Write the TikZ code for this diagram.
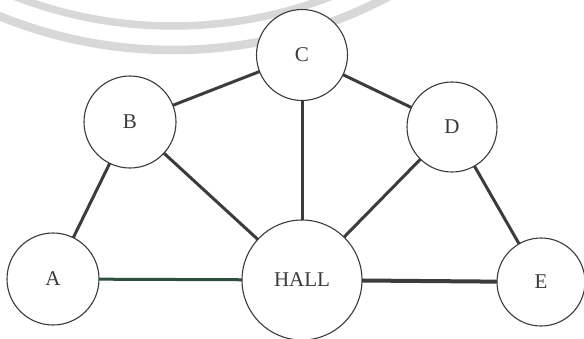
\documentclass[tikz,border=0pt]{standalone}
\usepackage{fontspec}
\setmainfont{Liberation Serif}
\definecolor{wm}{HTML}{D8D8D8}
\definecolor{ink}{HTML}{3A3A3A}
\definecolor{edgegray}{HTML}{3C3C3C}
\definecolor{edgegreen}{HTML}{2E4E3E}
\tikzset{
  room/.style={circle, draw=ink, line width=1.1pt, fill=white, inner sep=0pt, outer sep=0pt,
    text=ink, font=\fontsize{21}{24}\selectfont},
  link/.style={draw=edgegray, line width=3pt},
  linkgreen/.style={draw=edgegreen, line width=3pt},
  linkthick/.style={draw=edgegray, line width=4pt},
  watermark/.style={draw=wm, line width=7.5pt}
}
\begin{document}
\begin{tikzpicture}[x=1pt,y=-1pt]
\useasboundingbox (0,0) rectangle (584,338);
\begin{scope}
\clip (0,0) rectangle (584,338);
\fill[white] (0,0) rectangle (584,338);
\draw[watermark] (173,-410) circle (436);
\draw[watermark, line width=8.5pt] (173,-410) circle (460);
\end{scope}
\path
  (53,279)  coordinate (pA)
  (130,122) coordinate (pB)
  (302,55)  coordinate (pC)
  (452,127) coordinate (pD)
  (302,280) coordinate (pH)
  (541,282) coordinate (pE);
\node[room, minimum size=92pt]  (A) at (pA) {A};
\node[room, minimum size=92pt]  (B) at (pB) {B};
\node[room, minimum size=91pt]  (C) at (pC) {C};
\node[room, minimum size=90pt]  (D) at (pD) {D};
\node[room, minimum size=120pt] (H) at (pH) {HALL};
\node[room, minimum size=88pt]  (E) at (pE) {E};
\draw[link] (A) -- (B);
\draw[linkgreen] (A) -- (H);
\draw[link] (B) -- (C);
\draw[link] (B) -- (H);
\draw[link] (C) -- (H);
\draw[link] (C) -- (D);
\draw[link] (D) -- (H);
\draw[link] (D) -- (E);
\draw[linkthick] (H) -- (E);
\end{tikzpicture}
\end{document}
